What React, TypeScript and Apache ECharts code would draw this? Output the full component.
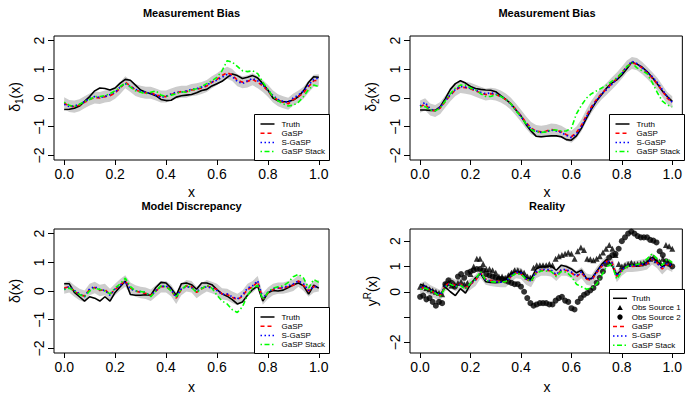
import React, { useEffect, useRef } from "react";
import * as echarts from "echarts";

// ---------- data ----------
const xs = [0, 0.02, 0.04, 0.06, 0.08, 0.1, 0.12, 0.14, 0.16, 0.18, 0.2, 0.22, 0.24, 0.26, 0.28, 0.3, 0.32, 0.34, 0.36, 0.38, 0.4, 0.42, 0.44, 0.46, 0.48, 0.5, 0.52, 0.54, 0.56, 0.58, 0.6, 0.62, 0.64, 0.66, 0.68, 0.7, 0.72, 0.74, 0.76, 0.78, 0.8, 0.82, 0.84, 0.86, 0.88, 0.9, 0.92, 0.94, 0.96, 0.98, 1];

// Panel 1: Measurement Bias, delta_1
const truth1 = [-0.40, -0.39, -0.36, -0.28, -0.12, 0.05, 0.25, 0.35, 0.33, 0.28, 0.35, 0.52, 0.65, 0.62, 0.45, 0.28, 0.20, 0.15, 0.08, -0.05, -0.09, -0.08, 0.03, 0.08, 0.10, 0.12, 0.18, 0.26, 0.30, 0.42, 0.50, 0.58, 0.72, 0.84, 0.78, 0.68, 0.72, 0.78, 0.70, 0.50, 0.28, 0.00, -0.10, -0.13, -0.12, -0.07, 0.05, 0.25, 0.55, 0.74, 0.72];
const gasp1 = [-0.18, -0.28, -0.30, -0.25, -0.15, -0.05, 0.02, 0.00, 0.05, 0.08, 0.18, 0.35, 0.55, 0.42, 0.28, 0.22, 0.18, 0.18, 0.12, 0.05, 0.05, 0.12, 0.18, 0.22, 0.22, 0.28, 0.30, 0.35, 0.42, 0.55, 0.65, 0.78, 0.88, 0.80, 0.62, 0.55, 0.58, 0.65, 0.55, 0.42, 0.25, 0.05, -0.08, -0.15, -0.20, -0.05, 0.05, 0.18, 0.40, 0.60, 0.62];
const sgasp1 = [-0.22, -0.30, -0.28, -0.22, -0.12, -0.02, 0.05, 0.02, 0.05, 0.12, 0.20, 0.38, 0.50, 0.40, 0.30, 0.24, 0.20, 0.15, 0.10, 0.02, 0.06, 0.14, 0.20, 0.20, 0.25, 0.30, 0.32, 0.38, 0.45, 0.55, 0.62, 0.72, 0.82, 0.75, 0.58, 0.50, 0.60, 0.68, 0.60, 0.45, 0.28, 0.08, -0.05, -0.12, -0.15, 0.00, 0.10, 0.25, 0.45, 0.65, 0.70];
const stack1 = [-0.15, -0.25, -0.30, -0.22, -0.12, -0.05, 0.05, 0.05, 0.08, 0.15, 0.25, 0.40, 0.52, 0.38, 0.25, 0.20, 0.15, 0.20, 0.25, 0.10, 0.05, 0.10, 0.15, 0.22, 0.20, 0.28, 0.32, 0.40, 0.50, 0.60, 0.72, 0.95, 1.30, 1.25, 1.10, 0.95, 0.92, 0.95, 0.85, 0.55, 0.30, 0.05, -0.10, -0.20, -0.28, -0.25, -0.15, 0.05, 0.30, 0.45, 0.40];

// Panel 2: Measurement Bias, delta_2
const truth2 = [-0.42, -0.42, -0.43, -0.43, -0.30, -0.02, 0.30, 0.50, 0.60, 0.52, 0.40, 0.33, 0.30, 0.28, 0.27, 0.22, 0.08, -0.05, -0.20, -0.42, -0.62, -0.92, -1.15, -1.33, -1.35, -1.33, -1.32, -1.32, -1.35, -1.45, -1.47, -1.32, -1.05, -0.70, -0.38, -0.10, 0.12, 0.35, 0.52, 0.63, 0.80, 1.02, 1.25, 1.18, 1.08, 0.92, 0.72, 0.50, 0.25, 0.05, -0.12];
const gasp2 = [-0.30, -0.22, -0.40, -0.45, -0.35, -0.12, 0.10, 0.28, 0.38, 0.36, 0.32, 0.25, 0.18, 0.12, 0.15, 0.12, 0.05, -0.05, -0.20, -0.40, -0.62, -0.85, -1.05, -1.15, -1.18, -1.15, -1.10, -1.12, -1.18, -1.28, -1.35, -1.20, -0.95, -0.60, -0.30, -0.05, 0.16, 0.32, 0.50, 0.68, 0.88, 1.10, 1.22, 1.18, 1.05, 0.88, 0.70, 0.50, 0.25, 0.00, -0.15];
const sgasp2 = [-0.28, -0.15, -0.38, -0.45, -0.32, -0.10, 0.12, 0.30, 0.40, 0.38, 0.33, 0.28, 0.20, 0.15, 0.18, 0.14, 0.06, -0.05, -0.22, -0.42, -0.65, -0.88, -1.08, -1.15, -1.20, -1.18, -1.12, -1.15, -1.20, -1.30, -1.38, -1.25, -1.00, -0.65, -0.35, -0.08, 0.14, 0.30, 0.47, 0.66, 0.86, 1.08, 1.28, 1.20, 1.05, 0.92, 0.75, 0.55, 0.30, 0.05, -0.15];
const stack2 = [-0.30, -0.30, -0.42, -0.45, -0.35, -0.10, 0.15, 0.35, 0.45, 0.45, 0.35, 0.28, 0.15, 0.05, 0.05, 0.12, 0.05, -0.05, -0.20, -0.45, -0.65, -0.90, -1.10, -1.18, -1.20, -1.18, -1.12, -1.12, -1.15, -1.15, -1.05, -0.55, -0.25, 0.00, 0.15, 0.25, 0.35, 0.45, 0.58, 0.70, 0.88, 1.10, 1.22, 1.05, 0.95, 0.85, 0.55, 0.20, -0.10, -0.25, -0.30];

// Panel 3: Model Discrepancy
const truth3 = [0.25, 0.25, -0.05, -0.20, -0.35, -0.20, -0.25, -0.35, -0.20, -0.35, -0.05, 0.15, 0.35, -0.12, -0.15, -0.15, -0.13, -0.15, 0.12, 0.30, 0.28, 0.10, -0.15, 0.25, 0.28, 0.22, 0.06, 0.28, 0.28, 0.22, 0.05, -0.10, -0.18, -0.30, -0.45, -0.38, -0.15, 0.05, 0.17, -0.35, -0.06, 0.02, 0.00, 0.03, 0.12, 0.22, 0.28, 0.18, -0.11, 0.20, 0.10];
const gasp3 = [0.10, 0.15, 0.00, -0.12, -0.18, 0.05, 0.12, 0.02, 0.05, -0.12, 0.05, 0.22, 0.35, 0.10, 0.00, -0.05, -0.08, -0.15, 0.00, 0.15, 0.15, 0.02, -0.25, 0.05, 0.18, 0.15, -0.05, 0.08, 0.18, 0.12, 0.05, -0.10, -0.12, -0.22, -0.30, -0.18, 0.05, 0.15, 0.32, -0.28, -0.08, 0.05, 0.10, 0.10, 0.15, 0.20, 0.35, 0.20, 0.00, 0.15, 0.18];
const sgasp3 = [0.05, 0.15, 0.02, -0.10, -0.20, 0.08, 0.15, 0.05, 0.02, -0.15, 0.08, 0.20, 0.32, 0.08, 0.00, -0.02, -0.05, -0.18, 0.02, 0.15, 0.18, 0.05, -0.22, 0.08, 0.15, 0.12, -0.02, 0.10, 0.15, 0.10, 0.02, -0.12, -0.10, -0.20, -0.28, -0.15, 0.10, 0.18, 0.35, -0.25, -0.05, 0.08, 0.12, 0.12, 0.18, 0.25, 0.35, 0.25, 0.02, 0.15, 0.15];
const stack3 = [0.05, 0.10, 0.00, -0.12, -0.20, 0.00, 0.10, 0.05, 0.00, -0.10, 0.10, 0.25, 0.45, 0.15, 0.00, -0.02, -0.05, -0.20, 0.00, 0.18, 0.15, 0.00, -0.20, 0.05, 0.20, 0.12, -0.05, 0.08, 0.20, 0.10, -0.15, -0.35, -0.45, -0.65, -0.75, -0.55, -0.15, 0.10, 0.20, -0.30, -0.05, 0.10, 0.15, 0.18, 0.30, 0.50, 0.58, 0.45, 0.10, 0.40, 0.30];

// Panel 4: Reality
const truth4 = [0.30, 0.22, 0.10, 0.00, -0.12, 0.18, 0.00, -0.15, 0.12, -0.05, 0.30, 0.55, 0.72, 0.40, 0.37, 0.36, 0.38, 0.50, 0.72, 0.80, 0.78, 0.55, 0.50, 0.90, 1.00, 1.00, 1.02, 0.85, 1.05, 1.00, 0.90, 0.75, 0.85, 0.52, 0.52, 0.80, 1.08, 1.28, 1.05, 0.68, 0.88, 1.02, 1.06, 1.06, 1.06, 1.15, 1.35, 1.20, 1.00, 1.10, 1.00];
const gasp4 = [0.12, 0.20, 0.05, -0.05, -0.15, 0.25, 0.35, 0.25, 0.30, 0.15, 0.30, 0.45, 0.75, 0.50, 0.45, 0.42, 0.40, 0.40, 0.60, 0.75, 0.72, 0.50, 0.40, 0.75, 0.85, 0.85, 0.82, 0.65, 0.85, 0.85, 0.75, 0.60, 0.75, 0.50, 0.45, 0.75, 1.00, 1.20, 1.20, 0.60, 0.85, 1.00, 1.00, 1.02, 1.05, 1.10, 1.30, 1.15, 0.90, 1.10, 1.00];
const sgasp4 = [0.15, 0.22, 0.08, -0.02, -0.12, 0.22, 0.32, 0.22, 0.28, 0.12, 0.32, 0.48, 0.72, 0.48, 0.42, 0.40, 0.38, 0.42, 0.62, 0.78, 0.75, 0.52, 0.42, 0.78, 0.88, 0.88, 0.85, 0.68, 0.88, 0.88, 0.78, 0.62, 0.78, 0.52, 0.48, 0.78, 1.02, 1.22, 1.15, 0.62, 0.88, 1.02, 1.02, 1.05, 1.08, 1.12, 1.30, 1.12, 0.92, 1.12, 1.02];
const stack4 = [0.10, 0.15, 0.05, -0.05, -0.20, 0.20, 0.30, 0.20, 0.25, 0.10, 0.35, 0.50, 0.80, 0.45, 0.40, 0.38, 0.38, 0.40, 0.60, 0.72, 0.70, 0.50, 0.42, 0.72, 0.82, 0.82, 0.80, 0.60, 0.80, 0.78, 0.60, 0.30, 0.20, 0.10, 0.15, 0.30, 0.65, 1.00, 1.10, 0.50, 0.80, 1.00, 1.05, 1.08, 1.12, 1.30, 1.50, 1.30, 1.05, 1.30, 1.15];

const obsX = [0, 0.0125, 0.025, 0.0375, 0.05, 0.0625, 0.075, 0.0875, 0.1, 0.1125, 0.125, 0.1375, 0.15, 0.1625, 0.175, 0.1875, 0.2, 0.2125, 0.225, 0.2375, 0.25, 0.2625, 0.275, 0.2875, 0.3, 0.3125, 0.325, 0.3375, 0.35, 0.3625, 0.375, 0.3875, 0.4, 0.4125, 0.425, 0.4375, 0.45, 0.4625, 0.475, 0.4875, 0.5, 0.5125, 0.525, 0.5375, 0.55, 0.5625, 0.575, 0.5875, 0.6, 0.6125, 0.625, 0.6375, 0.65, 0.6625, 0.675, 0.6875, 0.7, 0.7125, 0.725, 0.7375, 0.75, 0.7625, 0.775, 0.7875, 0.8, 0.8125, 0.825, 0.8375, 0.85, 0.8625, 0.875, 0.8875, 0.9, 0.9125, 0.925, 0.9375, 0.95, 0.9625, 0.975, 0.9875, 1];
const obs1 = [0.20, 0.25, 0.15, 0.10, 0.05, 0.00, -0.05, -0.10, 0.30, 0.35,
  0.25, 0.30, 0.35, 0.40, 0.30, 0.35, 0.70, 1.00, 1.30, 1.30,
  1.10, 0.90, 0.90, 0.85, 0.75, 0.60, 0.60, 0.55, 0.65, 0.75,
  0.85, 0.85, 0.80, 0.75, 0.60, 0.55, 0.95, 1.05, 1.05, 1.05,
  1.05, 1.10, 1.05, 1.30, 1.40, 1.45, 1.50, 1.55, 1.50, 1.30,
  1.60, 1.75, 1.65, 1.30, 1.28, 1.25, 1.30, 1.40, 1.55, 1.70,
  1.85, 1.70, 1.45, 1.10, 1.00, 1.05, 1.10, 1.15, 1.10, 1.10,
  1.12, 1.15, 1.20, 1.30, 1.35, 1.25, 1.20, 1.30, 1.85, 1.80,
  1.70];
const obs2 = [-0.20, -0.15, -0.30, -0.25, -0.40, -0.55, -0.40, -0.45, 0.30, 0.45,
  0.35, 0.20, 0.60, 0.70, 0.55, 0.75, 0.80, 0.85, 0.90, 0.90,
  0.85, 0.70, 0.65, 0.60, 0.55, 0.50, 0.50, 0.45, 0.40, 0.35,
  0.30, 0.30, 0.20, 0.00, -0.25, -0.45, -0.55, -0.50, -0.45, -0.45,
  -0.45, -0.50, -0.50, -0.35, -0.25, -0.20, -0.35, -0.40, -0.65, -0.70,
  -0.40, -0.25, -0.12, -0.05, 0.05, 0.15, 0.35, 0.55, 0.80, 1.10,
  1.35, 1.45, 1.50, 1.70, 2.00, 2.15, 2.30, 2.38, 2.30, 2.20,
  2.15, 2.15, 2.15, 2.05, 2.02, 1.95, 1.60, 1.45, 1.20, 1.10,
  1.00];

const bandHalf = [0.21, 0.21, 0.2, 0.22];
const xTicks = [0, 0.2, 0.4, 0.6, 0.8, 1.0];
const yTicks = [-2, -1, 0, 1, 2];
const yLabelsReality = [-2, 0, 1, 2];
const titles = ["Measurement Bias", "Measurement Bias", "Model Discrepancy", "Reality"];

// ---------- style ----------
const FONT = "'Liberation Sans', Arial, Helvetica, sans-serif";
const C_TRUTH = "#000000";
const C_GASP = "#FF0000";
const C_SGASP = "#0000FF";
const C_STACK = "#00FF00";
const C_BAND = "#CCCCCC";
const DASH_GASP = [4, 3];
const DASH_SGASP = [1.5, 2.5];
const DASH_STACK = [1.5, 2.5, 5, 2.5];

const grids = [
  { left: 54, top: 36, width: 275, height: 124 },
  { left: 410, top: 36, width: 274, height: 124 },
  { left: 54, top: 229, width: 275, height: 124 },
  { left: 410, top: 229, width: 274, height: 124 },
];
const yRanges = [
  [-2.16, 2.16],
  [-2.16, 2.16],
  [-2.16, 2.16],
  [-2.42, 2.48],
];

const panels = [
  { truth: truth1, gasp: gasp1, sgasp: sgasp1, stack: stack1 },
  { truth: truth2, gasp: gasp2, sgasp: sgasp2, stack: stack2 },
  { truth: truth3, gasp: gasp3, sgasp: sgasp3, stack: stack3 },
  { truth: truth4, gasp: gasp4, sgasp: sgasp4, stack: stack4 },
];

function fmtY(v: number) {
  return v < 0 ? "\u2212" + Math.abs(v) : String(v);
}

function lineSeries(g: number, vals: number[], color: string, dash: any, width: number, z: number) {
  return {
    type: "line",
    xAxisIndex: g,
    yAxisIndex: g,
    data: xs.map((x, i) => [x, vals[i]]),
    symbol: "none",
    showSymbol: false,
    silent: true,
    clip: true,
    z,
    lineStyle: { color, width, type: dash || "solid" },
  };
}

function bandSeries(g: number, mean: number[], half: number) {
  return {
    type: "custom",
    xAxisIndex: g,
    yAxisIndex: g,
    silent: true,
    clip: true,
    z: 1,
    data: [[0.5, 0]],
    renderItem: (_params: any, api: any) => {
      const pts: number[][] = [];
      for (let i = 0; i < xs.length; i++) pts.push(api.coord([xs[i], mean[i] + half]));
      for (let i = xs.length - 1; i >= 0; i--) pts.push(api.coord([xs[i], mean[i] - half]));
      return { type: "polygon", shape: { points: pts }, style: { fill: C_BAND, stroke: null } };
    },
  };
}

type Entry = { label: string; kind: "line" | "tri" | "circ"; color?: string; dash?: number[] | null; width?: number };

const baseEntries: Entry[] = [
  { label: "Truth", kind: "line", color: C_TRUTH, dash: null, width: 1.5 },
  { label: "GaSP", kind: "line", color: C_GASP, dash: DASH_GASP, width: 1.5 },
  { label: "S-GaSP", kind: "line", color: C_SGASP, dash: DASH_SGASP, width: 1.5 },
  { label: "GaSP Stack", kind: "line", color: C_STACK, dash: DASH_STACK, width: 1.5 },
];
const realityEntries: Entry[] = [
  baseEntries[0],
  { label: "Obs Source 1", kind: "tri" },
  { label: "Obs Source 2", kind: "circ" },
  baseEntries[1],
  baseEntries[2],
  baseEntries[3],
];

function legendGraphics(
  x0: number, y0: number, w: number, h: number, entries: Entry[],
  first: number, step: number, lx1: number, lx2: number, tx: number
) {
  const els: any[] = [];
  els.push({
    type: "rect",
    z: 100,
    shape: { x: x0 + 0.5, y: y0 + 0.5, width: w, height: h },
    style: { fill: "#ffffff", stroke: "#000000", lineWidth: 1 },
  });
  entries.forEach((e, i) => {
    const y = y0 + first + i * step;
    const cx = x0 + (lx1 + lx2) / 2;
    if (e.kind === "line") {
      els.push({
        type: "line",
        z: 101,
        shape: { x1: x0 + lx1, y1: y, x2: x0 + lx2, y2: y },
        style: { stroke: e.color, lineWidth: e.width, lineDash: e.dash || undefined },
      });
    } else if (e.kind === "tri") {
      els.push({
        type: "polygon",
        z: 101,
        shape: { points: [[cx, y - 2.8], [cx - 2.8, y + 2.2], [cx + 2.8, y + 2.2]] },
        style: { fill: "#000000" },
      });
    } else {
      els.push({ type: "circle", z: 101, shape: { cx, cy: y, r: 2.7 }, style: { fill: "#000000" } });
    }
    els.push({
      type: "text",
      z: 101,
      x: x0 + tx,
      y,
      style: { text: e.label, fontSize: 8, fontFamily: FONT, fill: "#000000", align: "left", verticalAlign: "middle" },
    });
  });
  return els;
}

function yLabel(x: number, y: number, text: string) {
  return {
    type: "text",
    x,
    y,
    rotation: Math.PI / 2,
    style: {
      text,
      align: "center",
      verticalAlign: "middle",
      fill: "#000000",
      rich: {
        a: { fontSize: 14, fontFamily: FONT, fill: "#000000", lineHeight: 19, verticalAlign: "middle" },
        s: { fontSize: 10, fontFamily: FONT, fill: "#000000", verticalAlign: "bottom" },
        p: { fontSize: 10, fontFamily: FONT, fill: "#000000", verticalAlign: "top" },
      },
    },
  };
}

function plainText(x: number, y: number, text: string, size: number, bold = false) {
  return {
    type: "text",
    x,
    y,
    style: {
      text,
      fontSize: size,
      fontFamily: FONT,
      fontWeight: bold ? "bold" : "normal",
      fill: "#000000",
      align: "center",
      verticalAlign: "middle",
    },
  };
}

function buildOption() {
  const series: any[] = [];
  panels.forEach((p, g) => {
    series.push(bandSeries(g, p.gasp, bandHalf[g]));
    if (g === 3) {
      series.push({
        type: "scatter",
        xAxisIndex: 3,
        yAxisIndex: 3,
        data: obsX.map((x, i) => [x, obs1[i]]),
        symbol: "triangle",
        symbolSize: 6,
        itemStyle: { color: "#000000" },
        silent: true,
        z: 2,
      });
      series.push({
        type: "scatter",
        xAxisIndex: 3,
        yAxisIndex: 3,
        data: obsX.map((x, i) => [x, obs2[i]]),
        symbol: "circle",
        symbolSize: 6,
        itemStyle: { color: "#000000" },
        silent: true,
        z: 2,
      });
    }
    series.push(lineSeries(g, p.truth, C_TRUTH, null, 1.6, 3));
    series.push(lineSeries(g, p.gasp, C_GASP, DASH_GASP, 1.7, 4));
    series.push(lineSeries(g, p.sgasp, C_SGASP, DASH_SGASP, 1.7, 4));
    series.push(lineSeries(g, p.stack, C_STACK, DASH_STACK, 1.6, 4));
  });

  const xAxis = grids.map((_, g) => ({
    gridIndex: g,
    type: "value",
    min: -0.04,
    max: 1.04,
    axisLine: { show: false, onZero: false },
    splitLine: { show: false },
    axisTick: { show: true, length: 5, lineStyle: { color: "#000000", width: 1 }, customValues: xTicks },
    axisLabel: {
      customValues: xTicks,
      formatter: (v: number) => v.toFixed(1),
      fontSize: 14,
      fontFamily: FONT,
      color: "#000000",
      margin: 7,
    },
  }));
  const yAxis = grids.map((_, g) => ({
    gridIndex: g,
    type: "value",
    min: yRanges[g][0],
    max: yRanges[g][1],
    axisLine: { show: false, onZero: false },
    splitLine: { show: false },
    axisTick: { show: true, length: 6, lineStyle: { color: "#000000", width: 1 }, customValues: yTicks },
    axisLabel: {
      customValues: g === 3 ? yLabelsReality : yTicks,
      formatter: (v: number) => fmtY(v),
      rotate: 90,
      fontSize: 14,
      fontFamily: FONT,
      color: "#000000",
      margin: 8,
    },
  }));

  const graphic: any[] = [];
  const centers = grids.map((gr) => gr.left + gr.width / 2);
  graphic.push(plainText(centers[0], 13, titles[0], 11, true));
  graphic.push(plainText(centers[1], 13, titles[1], 11, true));
  graphic.push(plainText(centers[2], 206, titles[2], 11, true));
  graphic.push(plainText(centers[3], 206, titles[3], 11, true));
  graphic.push(plainText(centers[0], 192, "x", 14));
  graphic.push(plainText(centers[1], 192, "x", 14));
  graphic.push(plainText(centers[2], 386.5, "x", 14));
  graphic.push(plainText(centers[3], 386.5, "x", 14));
  graphic.push(yLabel(15, 97, "{a|\u03b4}{s|1}{a|(x)}"));
  graphic.push(yLabel(371, 97, "{a|\u03b4}{s|2}{a|(x)}"));
  graphic.push(yLabel(15, 291, "{a|\u03b4(x)}"));
  graphic.push(yLabel(372, 291, "{a|y}{p|R}{a|(x)}"));
  graphic.push(...legendGraphics(254, 114, 75, 46, baseEntries, 10, 9.2, 6.5, 20.5, 27.5));
  graphic.push(...legendGraphics(609, 114, 75, 46, baseEntries, 10, 9.2, 6.5, 20.5, 27.5));
  graphic.push(...legendGraphics(254, 307, 75, 46, baseEntries, 10, 9.2, 6.5, 20.5, 27.5));
  graphic.push(...legendGraphics(609, 289, 75, 64, realityEntries, 9.3, 9.4, 4, 18, 22.7));

  return {
    animation: false,
    backgroundColor: "#ffffff",
    grid: grids.map((gr) => ({
      ...gr,
      show: true,
      borderColor: "#000000",
      borderWidth: 1,
      backgroundColor: "transparent",
      containLabel: false,
    })),
    xAxis,
    yAxis,
    series,
    graphic,
  };
}

export default function App() {
  const ref = useRef<HTMLDivElement>(null);
  useEffect(() => {
    if (!ref.current) return;
    const chart = echarts.init(ref.current, null, { renderer: "svg" });
    chart.setOption(buildOption() as any);
    return () => chart.dispose();
  }, []);
  return (
    <div
      ref={ref}
      style={{ position: "fixed", left: 0, top: 0, width: 685, height: 393, background: "#ffffff" }}
    />
  );
}
